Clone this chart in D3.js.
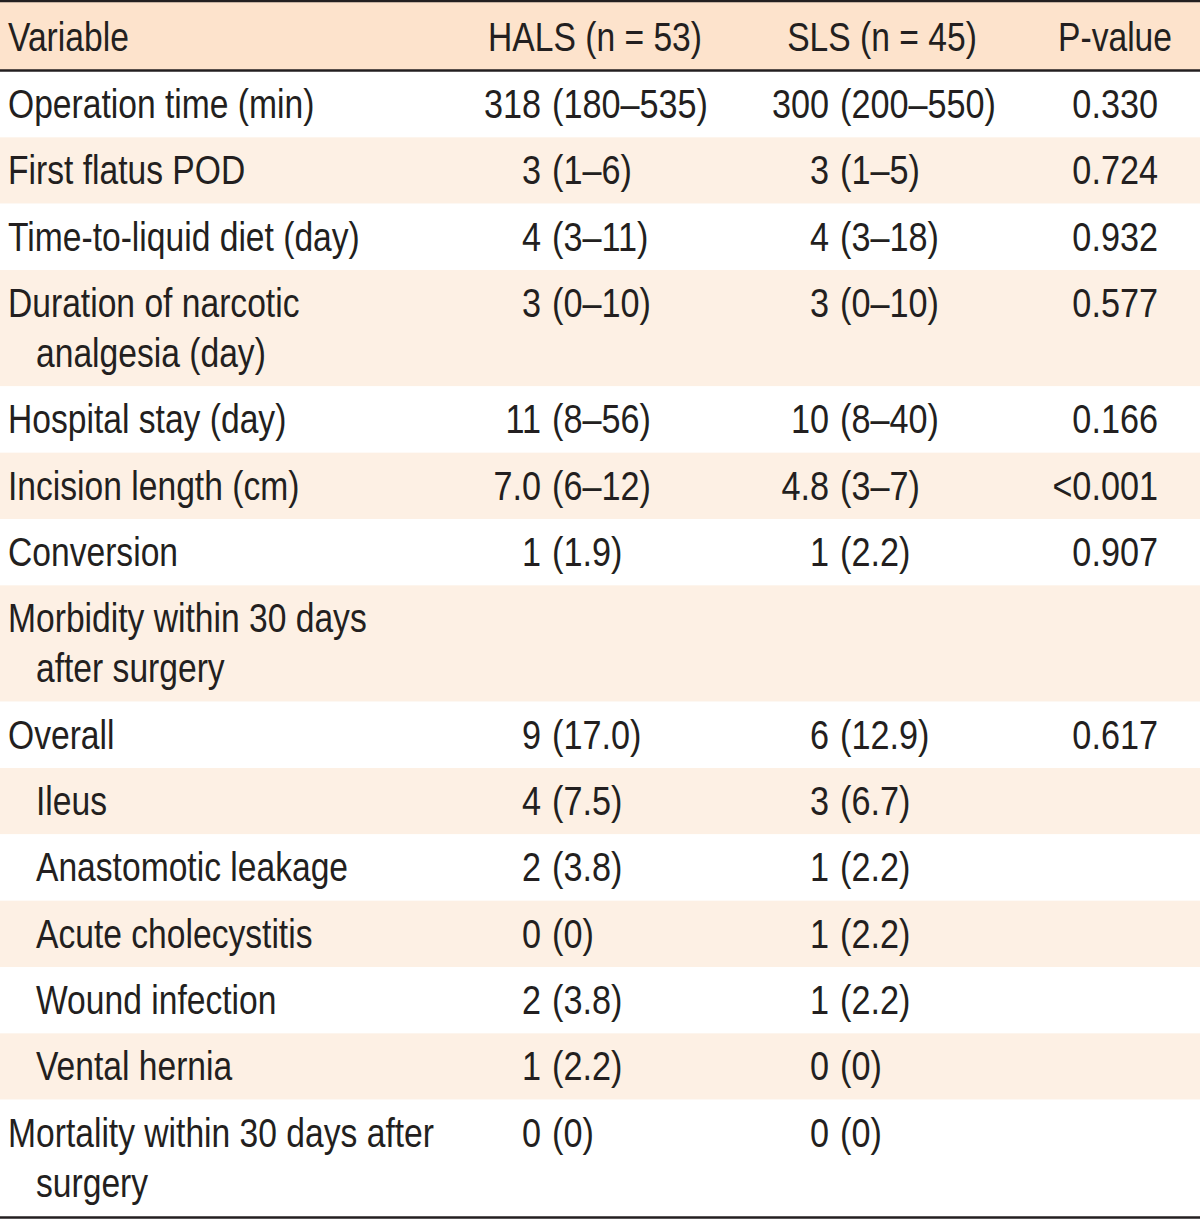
<!DOCTYPE html>
<html>
<head>
<meta charset="utf-8">
<script src="https://cdn.jsdelivr.net/npm/d3@7"></script>
<style>
  html, body { margin: 0; padding: 0; background: #ffffff; }
  svg { display: block; }
</style>
</head>
<body>
<div id="chart"></div>
<script>
// ---- Data ----
const headers = ["Variable", "HALS (n = 53)", "SLS (n = 45)", "P-value"];
const variables = [
  ["Operation time (min)"],
  ["First flatus POD"],
  ["Time-to-liquid diet (day)"],
  ["Duration of narcotic", "analgesia (day)"],
  ["Hospital stay (day)"],
  ["Incision length (cm)"],
  ["Conversion"],
  ["Morbidity within 30 days", "after surgery"],
  ["Overall"],
  ["Ileus"],
  ["Anastomotic leakage"],
  ["Acute cholecystitis"],
  ["Wound infection"],
  ["Vental hernia"],
  ["Mortality within 30 days after", "surgery"]
];
const indentLevels = [0,0,0,0,0,0,0,0,0,1,1,1,1,1,0];
const halsValues = ["318 (180–535)", "3 (1–6)", "4 (3–11)", "3 (0–10)", "11 (8–56)", "7.0 (6–12)", "1 (1.9)", "", "9 (17.0)", "4 (7.5)", "2 (3.8)", "0 (0)", "2 (3.8)", "1 (2.2)", "0 (0)"];
const slsValues  = ["300 (200–550)", "3 (1–5)", "4 (3–18)", "3 (0–10)", "10 (8–40)", "4.8 (3–7)", "1 (2.2)", "", "6 (12.9)", "3 (6.7)", "1 (2.2)", "1 (2.2)", "1 (2.2)", "0 (0)", "0 (0)"];
const pValues    = ["0.330", "0.724", "0.932", "0.577", "0.166", "<0.001", "0.907", "", "0.617", "", "", "", "", "", ""];

// ---- Layout ----
const W = 1200, H = 1219;
const headerTop = 2, headerBottom = 71, tableBottom = 1216;
const lineGap = 50;
const fontSize = 41, sx = 0.82, sxVal = 0.835;
const ink = "#231f20";
const headerFill = "#fde3cc";
const stripeFill = "#fdf0e4";

const svg = d3.select("#chart").append("svg")
  .attr("width", W).attr("height", H)
  .style("font-family", "'Liberation Sans', Arial, sans-serif");

const nLines = variables.map(v => v.length);
const extra = d3.sum(nLines, n => (n - 1) * lineGap);
const h1 = (tableBottom - headerBottom - extra) / variables.length;
const rowTops = [];
let acc = headerBottom;
nLines.forEach(n => { rowTops.push(acc); acc += h1 + (n - 1) * lineGap; });
const rowH = nLines.map(n => h1 + (n - 1) * lineGap);

const xVar = 8, xIndent = 36;
const halsSplit = {num: 541, par: 552};
const slsSplit = {num: 829, par: 840};
const xP = 1158;
const headerCenters = [null, 595, 882, 1115];

function addText(g, x, y, str, anchor, s) {
  g.append("text")
    .attr("transform", `translate(${x},${y}) scale(${s || sx},1)`)
    .attr("text-anchor", anchor)
    .attr("font-size", fontSize)
    .attr("fill", ink)
    .text(str);
}

function addSplit(g, split, y, str) {
  if (!str) return;
  const i = str.indexOf(" ");
  addText(g, split.num, y, str.slice(0, i), "end", sxVal);
  addText(g, split.par, y, str.slice(i + 1), "start", sxVal);
}

svg.append("rect").attr("x", 0).attr("y", headerTop).attr("width", W)
  .attr("height", headerBottom - headerTop).attr("fill", headerFill);

svg.selectAll("rect.row").data(variables).enter().append("rect")
  .attr("class", "row")
  .attr("x", 0).attr("width", W)
  .attr("y", (d, i) => rowTops[i])
  .attr("height", (d, i) => rowH[i])
  .attr("fill", (d, i) => i % 2 === 1 ? stripeFill : "#ffffff");

const hg = svg.append("g");
const hBase = (headerTop + headerBottom) / 2 + 14;
addText(hg, xVar, hBase, headers[0], "start");
for (let c = 1; c < 4; c++) addText(hg, headerCenters[c], hBase, headers[c], "middle");

const bg = svg.append("g");
variables.forEach((lines, i) => {
  const firstBase = rowTops[i] + 33 + 14;
  lines.forEach((ln, k) => {
    const x = (k > 0 || indentLevels[i] === 1) ? xIndent : xVar;
    addText(bg, x, firstBase + k * lineGap, ln, "start");
  });
  addSplit(bg, halsSplit, firstBase, halsValues[i]);
  addSplit(bg, slsSplit, firstBase, slsValues[i]);
  if (pValues[i]) addText(bg, xP, firstBase, pValues[i], "end", sxVal);
});

svg.append("line").attr("x1", 0).attr("x2", W).attr("y1", 1).attr("y2", 1)
  .attr("stroke", ink).attr("stroke-width", 2.5);
svg.append("line").attr("x1", 0).attr("x2", W).attr("y1", headerBottom - 0.5).attr("y2", headerBottom - 0.5)
  .attr("stroke", ink).attr("stroke-width", 2.5);
svg.append("line").attr("x1", 0).attr("x2", W).attr("y1", tableBottom + 1.5).attr("y2", tableBottom + 1.5)
  .attr("stroke", ink).attr("stroke-width", 2.5);
</script>
</body>
</html>
